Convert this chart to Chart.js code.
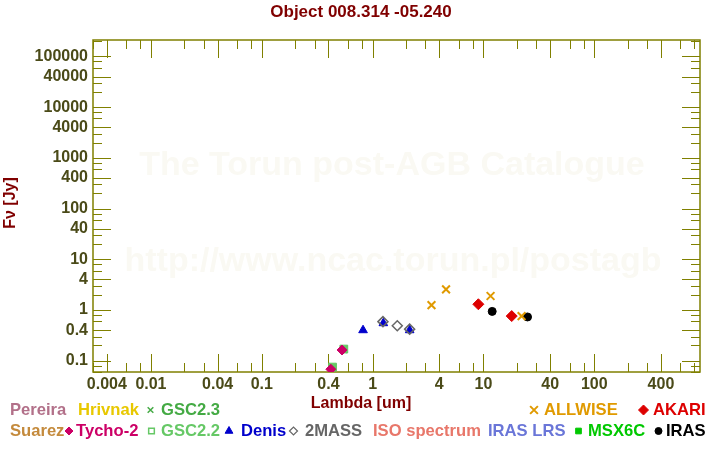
<!DOCTYPE html>
<html><head><meta charset="utf-8">
<script src="https://cdn.jsdelivr.net/npm/chart.js@4.4.1/dist/chart.umd.min.js"></script>
<style>html,body{margin:0;padding:0;background:#fff}#wrap{width:720px;height:450px;position:relative}</style>
</head><body><div id="wrap"><canvas id="c" width="720" height="450"></canvas></div>
<script>
// ---- data ----
const chartTitle = 'Object 008.314 -05.240';
const xTickLabels = [0.004, 0.01, 0.04, 0.1, 0.4, 1, 4, 10, 40, 100, 400];
const yTickLabels = [0.1, 0.4, 1, 4, 10, 40, 100, 400, 1000, 4000, 10000, 40000, 100000];
const tickMantissas = [1, 2, 3, 4, 6, 8];
const xRange = [0.003, 900];
const yRange = [0.06, 211000];

const tycho2  = [[0.42, 0.068], [0.53, 0.163]];
const gsc22   = [[0.435, 0.075], [0.55, 0.17]];
const gsc23   = [[0.435, 0.073], [0.55, 0.168]];
const twomass = [[1.24, 0.59], [1.67, 0.49], [2.16, 0.42]];
const denis   = [[0.82, 0.40], [1.25, 0.55], [2.16, 0.40]];
const allwise = [[3.4, 1.25], [4.6, 2.56], [11.6, 1.89], [22.1, 0.76]];
const akari   = [[9, 1.30], [18, 0.76]];
const iras    = [[12, 0.94], [25, 0.73]];

const legendRow1 = ['Pereira', 'Hrivnak', 'GSC2.3', 'ALLWISE', 'AKARI'];
const legendRow2 = ['Suarez', 'Tycho-2', 'GSC2.2', 'Denis', '2MASS', 'ISO spectrum', 'IRAS LRS', 'MSX6C', 'IRAS'];

// ---- styles ----
const COL = {
  'Pereira': '#b27089', 'Hrivnak': '#e8c800', 'GSC2.3': '#44aa44', 'ALLWISE': '#e09a00', 'AKARI': '#dd0000',
  'Suarez': '#c48a3c', 'Tycho-2': '#cc0066', 'GSC2.2': '#66c866', 'Denis': '#0000cc', '2MASS': '#666666',
  'ISO spectrum': '#e8776a', 'IRAS LRS': '#6a76d8', 'MSX6C': '#00c800', 'IRAS': '#000000'
};
const AXIS = '#808000';
const TICKTXT = '#4a4a18';
const DARKRED = '#800000';
const FONT = '"Liberation Sans", Arial, sans-serif';

const pts = a => a.map(p => ({x: p[0], y: p[1]}));
const round = v => parseFloat(v.toPrecision(3));

function buildTicks(min, max, lo, hi) {
  const out = [];
  for (let e = lo; e <= hi; e++) for (const m of tickMantissas) {
    const v = round(m * Math.pow(10, e));
    if (v >= min && v <= max) out.push(v);
  }
  return out;
}
const xTickVals = buildTicks(xRange[0], xRange[1], -3, 3);
const yTickVals = buildTicks(yRange[0], yRange[1], -2, 6);
const isMajor = v => { const m = round(v / Math.pow(10, Math.floor(Math.log10(v) + 1e-9))); return m === 1 || m === 4; };

const datasets = [
  {label: 'Tycho-2', data: pts(tycho2), pointStyle: 'rectRot', radius: 5, backgroundColor: COL['Tycho-2'], borderColor: COL['Tycho-2'], borderWidth: 1},
  {label: 'GSC2.2', data: pts(gsc22), pointStyle: 'rect', radius: 5.5, backgroundColor: '#66c866', borderColor: COL['GSC2.2'], borderWidth: 1},
  {label: 'GSC2.3', data: pts(gsc23), pointStyle: 'crossRot', radius: 5, backgroundColor: COL['GSC2.3'], borderColor: COL['GSC2.3'], borderWidth: 1.5},
  {label: '2MASS', data: pts(twomass), pointStyle: 'rectRot', radius: 5, backgroundColor: 'rgba(0,0,0,0)', borderColor: COL['2MASS'], borderWidth: 1.5},
  {label: 'Denis', data: pts(denis), pointStyle: 'triangle', radius: 5, backgroundColor: COL['Denis'], borderColor: COL['Denis'], borderWidth: 1},
  {label: 'ALLWISE', data: pts(allwise), pointStyle: 'crossRot', radius: 5.5, backgroundColor: COL['ALLWISE'], borderColor: COL['ALLWISE'], borderWidth: 2},
  {label: 'AKARI', data: pts(akari), pointStyle: 'rectRot', radius: 5.5, backgroundColor: COL['AKARI'], borderColor: COL['AKARI'], borderWidth: 1},
  {label: 'IRAS', data: pts(iras), pointStyle: 'circle', radius: 4, backgroundColor: COL['IRAS'], borderColor: COL['IRAS'], borderWidth: 1}
];

const legendMarkers = {
  'GSC2.3': {style: 'crossRot', r: 4, fill: false, lw: 1.5},
  'ALLWISE': {style: 'crossRot', r: 5.5, fill: false, lw: 2},
  'AKARI': {style: 'rectRot', r: 5, fill: true, lw: 1},
  'Tycho-2': {style: 'rectRot', r: 4, fill: true, lw: 1},
  'GSC2.2': {style: 'rect', r: 4, fill: false, lw: 1.5},
  'Denis': {style: 'triangle', r: 4.5, fill: true, lw: 1},
  '2MASS': {style: 'rectRot', r: 4, fill: false, lw: 1.2},
  'MSX6C': {style: 'rect', r: 4, fill: true, lw: 1},
  'IRAS': {style: 'circle', r: 3.5, fill: true, lw: 1}
};
// legend layout: [label, markerX or null, textX, row]
const legendLayout = [
  ['Pereira', null, 10, 0], ['Hrivnak', null, 78, 0], ['GSC2.3', 150.5, 161, 0],
  ['ALLWISE', 534, 544, 0], ['AKARI', 643.5, 653, 0],
  ['Suarez', null, 10, 1], ['Tycho-2', 69, 76, 1], ['GSC2.2', 151.5, 161, 1], ['Denis', 229, 241, 1],
  ['2MASS', 293.5, 305, 1], ['ISO spectrum', null, 373, 1], ['IRAS LRS', null, 488, 1],
  ['MSX6C', 578.5, 588, 1], ['IRAS', 658.5, 666, 1]
];

const decor = {
  id: 'decor',
  beforeDatasetsDraw(chart) {
    const {ctx, chartArea: a, scales: {x, y}} = chart;
    ctx.save();
    // watermark
    ctx.fillStyle = '#faf9f3';
    ctx.font = 'bold 34px ' + FONT;
    ctx.textAlign = 'center'; ctx.textBaseline = 'middle';
    ctx.fillText('The Torun post-AGB Catalogue', 392, 166);
    ctx.fillText('http://www.ncac.torun.pl/postagb', 393, 262);
    // inward ticks
    ctx.strokeStyle = AXIS; ctx.lineWidth = 1;
    ctx.beginPath();
    for (const v of xTickVals) {
      const px = Math.round(x.getPixelForValue(v)) + 0.5;
      const L = isMajor(v) ? 18 : 9;
      ctx.moveTo(px, a.bottom); ctx.lineTo(px, a.bottom - L);
      ctx.moveTo(px, a.top); ctx.lineTo(px, a.top + L);
    }
    for (const v of yTickVals) {
      const py = Math.round(y.getPixelForValue(v)) + 0.5;
      const L = isMajor(v) ? 18 : 9;
      ctx.moveTo(a.left, py); ctx.lineTo(a.left + L, py);
      ctx.moveTo(a.right, py); ctx.lineTo(a.right - L, py);
    }
    ctx.stroke();
    ctx.lineWidth = 1.5;
    ctx.strokeRect(a.left, a.top, a.right - a.left, a.bottom - a.top);
    ctx.restore();
  },
  afterDraw(chart) {
    const {ctx} = chart;
    ctx.save();
    ctx.textBaseline = 'middle';
    ctx.fillStyle = DARKRED;
    ctx.font = 'bold 17px ' + FONT;
    ctx.textAlign = 'center';
    ctx.fillText(chartTitle, 361, 12);
    ctx.font = 'bold 16px ' + FONT;
    ctx.fillText('Lambda [um]', 361, 404);
    ctx.save();
    ctx.translate(11, 203); ctx.rotate(-Math.PI / 2);
    ctx.fillText('F\u03bd [Jy]', 0, 0);
    ctx.restore();
    ctx.textAlign = 'left';
    ctx.font = 'bold 16.6px ' + FONT;
    const rowY = [410, 431];
    for (const [name, mx, tx, row] of legendLayout) {
      const c = COL[name];
      ctx.fillStyle = c;
      ctx.fillText(name, tx, rowY[row]);
      if (mx !== null) {
        const m = legendMarkers[name];
        ctx.strokeStyle = c; ctx.fillStyle = m.fill ? c : 'rgba(0,0,0,0)';
        ctx.lineWidth = m.lw;
        Chart.helpers.drawPoint(ctx, {pointStyle: m.style, radius: m.r, rotation: 0, borderWidth: m.lw}, mx, rowY[row]);
      }
    }
    ctx.restore();
  }
};

const labelSetX = new Set(xTickLabels);
const labelSetY = new Set(yTickLabels);
const tickFont = {family: FONT, weight: 'bold', size: 16};

new Chart(document.getElementById('c'), {
  type: 'scatter',
  data: {datasets},
  options: {
    responsive: false, animation: false,
    layout: {padding: {top: 40, right: 20, left: 0, bottom: 0}},
    plugins: {legend: {display: false}, title: {display: false}, tooltip: {enabled: false}},
    elements: {point: {hoverRadius: 5}},
    scales: {
      x: {
        type: 'logarithmic', min: xRange[0], max: xRange[1],
        afterBuildTicks: s => { s.ticks = xTickVals.map(v => ({value: v})); },
        afterFit: s => { s.height = 78; },
        grid: {display: false, drawTicks: false},
        border: {display: false},
        ticks: {autoSkip: false, maxRotation: 0, minRotation: 0, padding: 3, color: TICKTXT, font: tickFont,
          callback: v => labelSetX.has(round(v)) ? String(round(v)) : ''}
      },
      y: {
        type: 'logarithmic', min: yRange[0], max: yRange[1],
        afterBuildTicks: s => { s.ticks = yTickVals.map(v => ({value: v})); },
        afterFit: s => { s.width = 93; },
        grid: {display: false, drawTicks: false},
        border: {display: false},
        ticks: {autoSkip: false, padding: 5, color: TICKTXT, font: tickFont,
          callback: v => labelSetY.has(round(v)) ? String(round(v)) : ''}
      }
    }
  },
  plugins: [decor]
});
</script></body></html>
